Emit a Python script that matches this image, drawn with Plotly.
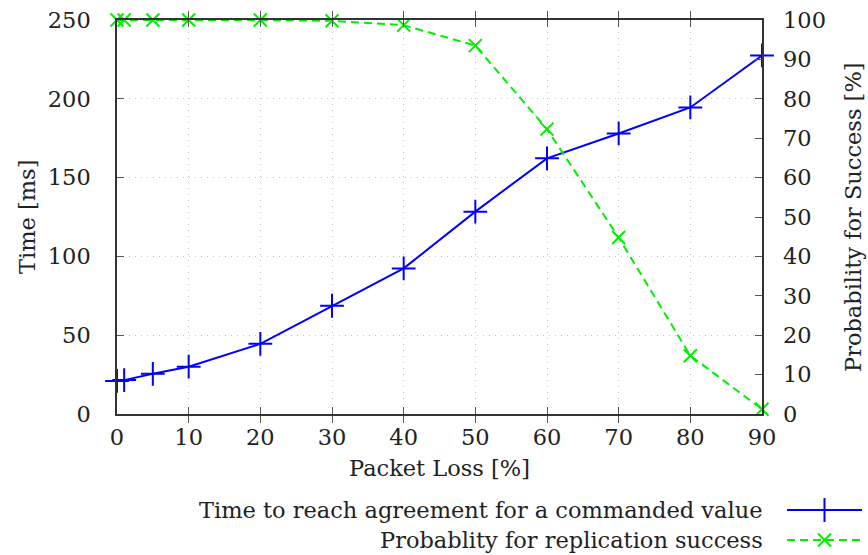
import plotly.graph_objects as go

packet_loss = [0, 1, 5, 10, 20, 30, 40, 50, 60, 70, 80, 90]
time_ms = [21, 21.5, 25.5, 30, 44.5, 68.7, 92.4, 128.4, 162.2, 178, 194.5, 227.5]
success_pct = [100, 100, 100, 100, 100, 99.8, 98.7, 93.5, 72.3, 44.8, 14.8, 1.2]

x_ticks = [0, 10, 20, 30, 40, 50, 60, 70, 80, 90]
y_ticks = [0, 50, 100, 150, 200, 250]
y2_ticks = [0, 10, 20, 30, 40, 50, 60, 70, 80, 90, 100]

series_names = ["Time to reach agreement for a commanded value",
                "Probablity for replication success"]
x_title = "Packet Loss [%]"
y_title = "Time [ms]"
y2_title = "Probability for Success [%]"

FONT = "DejaVu Serif"
FS = 22.5
TXT = "#222222"
BLUE = "#0000ff"
GREEN = "#00ee00"
GRID = "#c4c4c4"

W, H = 868, 555
L, R, T, B = 117, 762, 20, 414


def px_x(p):
    return p / W


def px_y(p):
    return 1 - p / H


fig = go.Figure()

fig.add_trace(go.Scatter(
    x=packet_loss, y=time_ms, mode="lines+markers",
    line=dict(color=BLUE, width=2),
    marker=dict(symbol="cross-thin", size=17, line=dict(color=BLUE, width=2)),
    cliponaxis=False, showlegend=False, xaxis="x", yaxis="y"))

fig.add_trace(go.Scatter(
    x=packet_loss, y=success_pct, mode="lines+markers",
    line=dict(color=GREEN, width=2, dash="8px,5px"),
    marker=dict(symbol="x-thin", size=13, line=dict(color=GREEN, width=2)),
    cliponaxis=False, showlegend=False, xaxis="x", yaxis="y2"))

# custom legend (text right-aligned, sample at right)
fig.add_trace(go.Scatter(
    x=[0, 0.5, 1], y=[1, 1, 1], mode="lines+markers",
    line=dict(color=BLUE, width=2),
    marker=dict(symbol="cross-thin", size=17, line=dict(color=BLUE, width=2),
                opacity=[0, 1, 0]),
    cliponaxis=False, showlegend=False, hoverinfo="skip", xaxis="x3", yaxis="y3"))
fig.add_trace(go.Scatter(
    x=[0, 0.5, 1], y=[0, 0, 0], mode="lines+markers",
    line=dict(color=GREEN, width=2, dash="8px,5px"),
    marker=dict(symbol="x-thin", size=13, line=dict(color=GREEN, width=2),
                opacity=[0, 1, 0]),
    cliponaxis=False, showlegend=False, hoverinfo="skip", xaxis="x3", yaxis="y3"))

common_tick = dict(ticks="inside", ticklen=7, tickcolor="#555555", tickwidth=1.3,
                   zeroline=False, automargin=False,
                   tickfont=dict(family=FONT, size=FS, color=TXT))

fig.update_layout(
    width=W, height=H,
    margin=dict(l=0, r=0, t=0, b=0, autoexpand=False),
    paper_bgcolor="white", plot_bgcolor="white",
    font=dict(family=FONT, size=FS, color=TXT),
    xaxis=dict(
        range=[0, 90], tickvals=x_ticks, ticklabelstandoff=2,
        showline=True, linecolor="#333333", linewidth=1.5, mirror="allticks",
        showgrid=True, gridcolor=GRID, griddash="1px,5px", gridwidth=1,
        domain=[px_x(L), px_x(R)], anchor="y", **common_tick),
    yaxis=dict(
        range=[0, 250], tickvals=y_ticks, ticklabelstandoff=20,
        showline=True, linecolor="#333333", linewidth=1.5, mirror=True,
        showgrid=True, gridcolor=GRID, griddash="1px,5px", gridwidth=1,
        domain=[px_y(B), px_y(T)], anchor="x", **common_tick),
    yaxis2=dict(
        range=[0, 100], tickvals=y2_ticks, ticklabelstandoff=20,
        overlaying="y", side="right", anchor="x", showgrid=False,
        showline=False, **common_tick),
    xaxis3=dict(range=[0, 1], visible=False, fixedrange=True,
                domain=[px_x(787), px_x(862)], anchor="y3"),
    yaxis3=dict(range=[-0.5, 1.5], visible=False, fixedrange=True,
                domain=[px_y(555), px_y(495)], anchor="x3"),
)

# axis titles
fig.add_annotation(text=x_title, xref="paper", yref="paper",
                   x=px_x((L + R) / 2), y=px_y(468), xanchor="center", yanchor="middle",
                   showarrow=False, font=dict(family=FONT, size=FS, color=TXT))
fig.add_annotation(text=y_title, xref="paper", yref="paper", textangle=-90,
                   x=px_x(27), y=px_y((T + B) / 2), xanchor="center", yanchor="middle",
                   showarrow=False, font=dict(family=FONT, size=FS, color=TXT))
fig.add_annotation(text=y2_title, xref="paper", yref="paper", textangle=-90,
                   x=px_x(853), y=px_y((T + B) / 2), xanchor="center", yanchor="middle",
                   showarrow=False, font=dict(family=FONT, size=FS, color=TXT))

for name, ypx in zip(series_names, [510, 540]):
    fig.add_annotation(
        text=name, xref="paper", yref="paper",
        x=px_x(765), y=px_y(ypx),
        xanchor="right", yanchor="middle", showarrow=False,
        font=dict(family=FONT, size=FS, color=TXT))

fig.write_html("out.html")
